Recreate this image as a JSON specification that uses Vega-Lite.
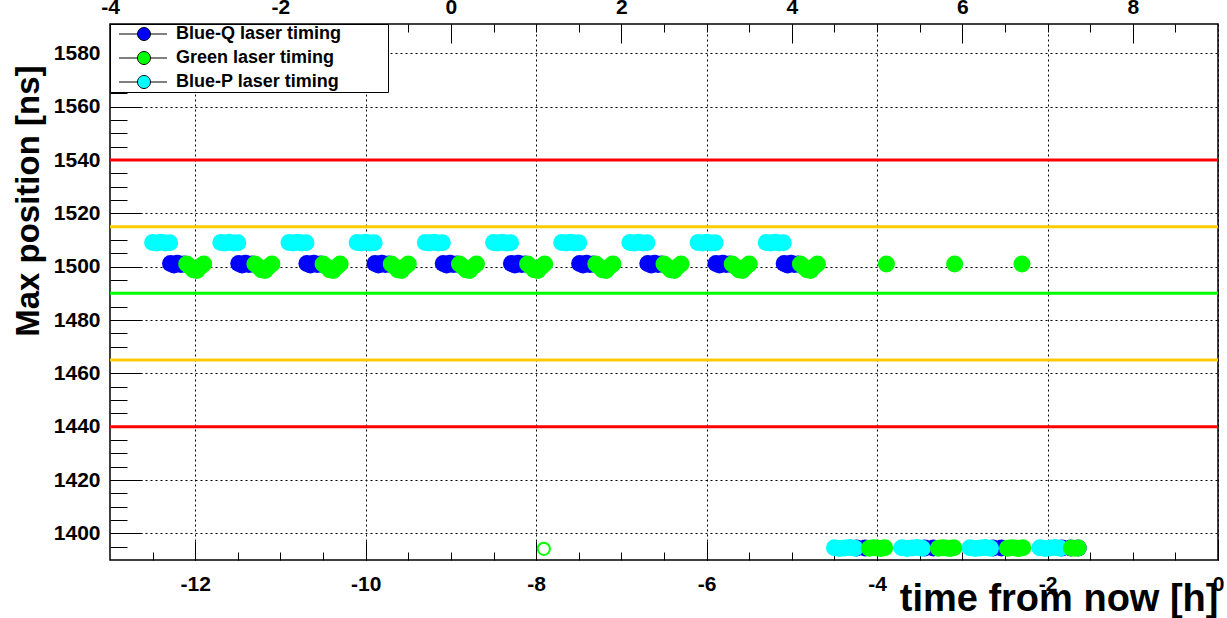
{
 "$schema": "https://vega.github.io/schema/vega-lite/v6.json",
 "width": 1108, "height": 536,
 "autosize": {"type": "none"},
 "padding": {"left": 110, "top": 24, "right": 9, "bottom": 58},
 "background": "white",
 "config": {
   "view": {"stroke": "black", "strokeWidth": 1.5},
   "font": "Liberation Sans",
   "axis": {"labelFont": "Liberation Sans", "labelFontWeight": "bold", "labelFontSize": 21, "labelColor": "black", "tickColor": "black", "tickWidth": 1, "domain": false, "labelFlush": false, "labelOverlap": false, "titleColor": "black", "titleFont": "Liberation Sans", "titleFontWeight": "bold", "gridColor": "black", "gridDash": [2, 3], "gridOpacity": 1, "gridWidth": 1}
 },
 "datasets": {
  "lines": [{"v": 1540, "c": "#ff0000"}, {"v": 1515, "c": "#ffcc00"}, {"v": 1490, "c": "#00ff00"}, {"v": 1465, "c": "#ffcc00"}, {"v": 1440, "c": "#ff0000"}],
  "ring": [{"t": -7.91, "v": 1394.2}],
  "pts": [
   {"s":"Blue-Q laser timing","t":-12.29,"v":1501.2},{"s":"Blue-Q laser timing","t":-12.25,"v":1500.6},{"s":"Blue-Q laser timing","t":-12.21,"v":1501.3},{"s":"Blue-Q laser timing","t":-12.17,"v":1500.8},{"s":"Blue-Q laser timing","t":-12.13,"v":1501.0},
   {"s":"Blue-Q laser timing","t":-11.49,"v":1501.2},{"s":"Blue-Q laser timing","t":-11.45,"v":1500.6},{"s":"Blue-Q laser timing","t":-11.41,"v":1501.3},{"s":"Blue-Q laser timing","t":-11.37,"v":1500.8},{"s":"Blue-Q laser timing","t":-11.33,"v":1501.0},
   {"s":"Blue-Q laser timing","t":-10.69,"v":1501.2},{"s":"Blue-Q laser timing","t":-10.65,"v":1500.6},{"s":"Blue-Q laser timing","t":-10.61,"v":1501.3},{"s":"Blue-Q laser timing","t":-10.57,"v":1500.8},{"s":"Blue-Q laser timing","t":-10.53,"v":1501.0},
   {"s":"Blue-Q laser timing","t":-9.89,"v":1501.2},{"s":"Blue-Q laser timing","t":-9.85,"v":1500.6},{"s":"Blue-Q laser timing","t":-9.81,"v":1501.3},{"s":"Blue-Q laser timing","t":-9.77,"v":1500.8},{"s":"Blue-Q laser timing","t":-9.73,"v":1501.0},
   {"s":"Blue-Q laser timing","t":-9.09,"v":1501.2},{"s":"Blue-Q laser timing","t":-9.05,"v":1500.6},{"s":"Blue-Q laser timing","t":-9.01,"v":1501.3},{"s":"Blue-Q laser timing","t":-8.97,"v":1500.8},{"s":"Blue-Q laser timing","t":-8.93,"v":1501.0},
   {"s":"Blue-Q laser timing","t":-8.29,"v":1501.2},{"s":"Blue-Q laser timing","t":-8.25,"v":1500.6},{"s":"Blue-Q laser timing","t":-8.21,"v":1501.3},{"s":"Blue-Q laser timing","t":-8.17,"v":1500.8},{"s":"Blue-Q laser timing","t":-8.13,"v":1501.0},
   {"s":"Blue-Q laser timing","t":-7.49,"v":1501.2},{"s":"Blue-Q laser timing","t":-7.45,"v":1500.6},{"s":"Blue-Q laser timing","t":-7.41,"v":1501.3},{"s":"Blue-Q laser timing","t":-7.37,"v":1500.8},{"s":"Blue-Q laser timing","t":-7.33,"v":1501.0},
   {"s":"Blue-Q laser timing","t":-6.69,"v":1501.2},{"s":"Blue-Q laser timing","t":-6.65,"v":1500.6},{"s":"Blue-Q laser timing","t":-6.61,"v":1501.3},{"s":"Blue-Q laser timing","t":-6.57,"v":1500.8},{"s":"Blue-Q laser timing","t":-6.53,"v":1501.0},
   {"s":"Blue-Q laser timing","t":-5.89,"v":1501.2},{"s":"Blue-Q laser timing","t":-5.85,"v":1500.6},{"s":"Blue-Q laser timing","t":-5.81,"v":1501.3},{"s":"Blue-Q laser timing","t":-5.77,"v":1500.8},{"s":"Blue-Q laser timing","t":-5.73,"v":1501.0},
   {"s":"Blue-Q laser timing","t":-5.09,"v":1501.2},{"s":"Blue-Q laser timing","t":-5.05,"v":1500.6},{"s":"Blue-Q laser timing","t":-5.01,"v":1501.3},{"s":"Blue-Q laser timing","t":-4.97,"v":1500.8},{"s":"Blue-Q laser timing","t":-4.93,"v":1501.0},
   {"s":"Blue-Q laser timing","t":-4.24,"v":1394.5},{"s":"Blue-Q laser timing","t":-4.14,"v":1394.5},{"s":"Blue-Q laser timing","t":-3.44,"v":1394.5},{"s":"Blue-Q laser timing","t":-3.34,"v":1394.5},{"s":"Blue-Q laser timing","t":-2.64,"v":1394.5},{"s":"Blue-Q laser timing","t":-2.54,"v":1394.5},{"s":"Blue-Q laser timing","t":-1.83,"v":1394.5},{"s":"Blue-Q laser timing","t":-1.73,"v":1394.5},{"s":"Blue-Q laser timing","t":-1.64,"v":1394.5},
   {"s":"Blue-P laser timing","t":-12.5,"v":1509.1},{"s":"Blue-P laser timing","t":-12.45,"v":1508.9},{"s":"Blue-P laser timing","t":-12.4,"v":1509.2},{"s":"Blue-P laser timing","t":-12.35,"v":1508.9},{"s":"Blue-P laser timing","t":-12.3,"v":1509.0},
   {"s":"Blue-P laser timing","t":-11.7,"v":1509.1},{"s":"Blue-P laser timing","t":-11.65,"v":1508.9},{"s":"Blue-P laser timing","t":-11.6,"v":1509.2},{"s":"Blue-P laser timing","t":-11.55,"v":1508.9},{"s":"Blue-P laser timing","t":-11.5,"v":1509.0},
   {"s":"Blue-P laser timing","t":-10.9,"v":1509.1},{"s":"Blue-P laser timing","t":-10.85,"v":1508.9},{"s":"Blue-P laser timing","t":-10.8,"v":1509.2},{"s":"Blue-P laser timing","t":-10.75,"v":1508.9},{"s":"Blue-P laser timing","t":-10.7,"v":1509.0},
   {"s":"Blue-P laser timing","t":-10.1,"v":1509.1},{"s":"Blue-P laser timing","t":-10.05,"v":1508.9},{"s":"Blue-P laser timing","t":-10.0,"v":1509.2},{"s":"Blue-P laser timing","t":-9.95,"v":1508.9},{"s":"Blue-P laser timing","t":-9.9,"v":1509.0},
   {"s":"Blue-P laser timing","t":-9.3,"v":1509.1},{"s":"Blue-P laser timing","t":-9.25,"v":1508.9},{"s":"Blue-P laser timing","t":-9.2,"v":1509.2},{"s":"Blue-P laser timing","t":-9.15,"v":1508.9},{"s":"Blue-P laser timing","t":-9.1,"v":1509.0},
   {"s":"Blue-P laser timing","t":-8.5,"v":1509.1},{"s":"Blue-P laser timing","t":-8.45,"v":1508.9},{"s":"Blue-P laser timing","t":-8.4,"v":1509.2},{"s":"Blue-P laser timing","t":-8.35,"v":1508.9},{"s":"Blue-P laser timing","t":-8.3,"v":1509.0},
   {"s":"Blue-P laser timing","t":-7.7,"v":1509.1},{"s":"Blue-P laser timing","t":-7.65,"v":1508.9},{"s":"Blue-P laser timing","t":-7.6,"v":1509.2},{"s":"Blue-P laser timing","t":-7.55,"v":1508.9},{"s":"Blue-P laser timing","t":-7.5,"v":1509.0},
   {"s":"Blue-P laser timing","t":-6.9,"v":1509.1},{"s":"Blue-P laser timing","t":-6.85,"v":1508.9},{"s":"Blue-P laser timing","t":-6.8,"v":1509.2},{"s":"Blue-P laser timing","t":-6.75,"v":1508.9},{"s":"Blue-P laser timing","t":-6.7,"v":1509.0},
   {"s":"Blue-P laser timing","t":-6.1,"v":1509.1},{"s":"Blue-P laser timing","t":-6.05,"v":1508.9},{"s":"Blue-P laser timing","t":-6.0,"v":1509.2},{"s":"Blue-P laser timing","t":-5.95,"v":1508.9},{"s":"Blue-P laser timing","t":-5.9,"v":1509.0},
   {"s":"Blue-P laser timing","t":-5.3,"v":1509.1},{"s":"Blue-P laser timing","t":-5.25,"v":1508.9},{"s":"Blue-P laser timing","t":-5.2,"v":1509.2},{"s":"Blue-P laser timing","t":-5.15,"v":1508.9},{"s":"Blue-P laser timing","t":-5.1,"v":1509.0},
   {"s":"Blue-P laser timing","t":-4.5,"v":1394.6},{"s":"Blue-P laser timing","t":-4.44,"v":1394.3},{"s":"Blue-P laser timing","t":-4.38,"v":1394.5},{"s":"Blue-P laser timing","t":-4.32,"v":1394.7},{"s":"Blue-P laser timing","t":-4.26,"v":1394.4},
   {"s":"Blue-P laser timing","t":-3.71,"v":1394.6},{"s":"Blue-P laser timing","t":-3.65,"v":1394.3},{"s":"Blue-P laser timing","t":-3.59,"v":1394.5},{"s":"Blue-P laser timing","t":-3.53,"v":1394.7},{"s":"Blue-P laser timing","t":-3.47,"v":1394.4},
   {"s":"Blue-P laser timing","t":-2.91,"v":1394.6},{"s":"Blue-P laser timing","t":-2.85,"v":1394.3},{"s":"Blue-P laser timing","t":-2.79,"v":1394.5},{"s":"Blue-P laser timing","t":-2.73,"v":1394.7},{"s":"Blue-P laser timing","t":-2.67,"v":1394.4},
   {"s":"Blue-P laser timing","t":-2.09,"v":1394.6},{"s":"Blue-P laser timing","t":-2.03,"v":1394.3},{"s":"Blue-P laser timing","t":-1.97,"v":1394.5},{"s":"Blue-P laser timing","t":-1.91,"v":1394.7},{"s":"Blue-P laser timing","t":-1.85,"v":1394.4},
   {"s":"Green laser timing","t":-12.1,"v":1501.0},{"s":"Green laser timing","t":-12.06,"v":1500.0},{"s":"Green laser timing","t":-12.02,"v":1498.8},{"s":"Green laser timing","t":-11.98,"v":1498.6},{"s":"Green laser timing","t":-11.94,"v":1500.0},{"s":"Green laser timing","t":-11.9,"v":1501.0},
   {"s":"Green laser timing","t":-11.3,"v":1501.0},{"s":"Green laser timing","t":-11.26,"v":1500.0},{"s":"Green laser timing","t":-11.22,"v":1498.8},{"s":"Green laser timing","t":-11.18,"v":1498.6},{"s":"Green laser timing","t":-11.14,"v":1500.0},{"s":"Green laser timing","t":-11.1,"v":1501.0},
   {"s":"Green laser timing","t":-10.5,"v":1501.0},{"s":"Green laser timing","t":-10.46,"v":1500.0},{"s":"Green laser timing","t":-10.42,"v":1498.8},{"s":"Green laser timing","t":-10.38,"v":1498.6},{"s":"Green laser timing","t":-10.34,"v":1500.0},{"s":"Green laser timing","t":-10.3,"v":1501.0},
   {"s":"Green laser timing","t":-9.7,"v":1501.0},{"s":"Green laser timing","t":-9.66,"v":1500.0},{"s":"Green laser timing","t":-9.62,"v":1498.8},{"s":"Green laser timing","t":-9.58,"v":1498.6},{"s":"Green laser timing","t":-9.54,"v":1500.0},{"s":"Green laser timing","t":-9.5,"v":1501.0},
   {"s":"Green laser timing","t":-8.9,"v":1501.0},{"s":"Green laser timing","t":-8.86,"v":1500.0},{"s":"Green laser timing","t":-8.82,"v":1498.8},{"s":"Green laser timing","t":-8.78,"v":1498.6},{"s":"Green laser timing","t":-8.74,"v":1500.0},{"s":"Green laser timing","t":-8.7,"v":1501.0},
   {"s":"Green laser timing","t":-8.1,"v":1501.0},{"s":"Green laser timing","t":-8.06,"v":1500.0},{"s":"Green laser timing","t":-8.02,"v":1498.8},{"s":"Green laser timing","t":-7.98,"v":1498.6},{"s":"Green laser timing","t":-7.94,"v":1500.0},{"s":"Green laser timing","t":-7.9,"v":1501.0},
   {"s":"Green laser timing","t":-7.3,"v":1501.0},{"s":"Green laser timing","t":-7.26,"v":1500.0},{"s":"Green laser timing","t":-7.22,"v":1498.8},{"s":"Green laser timing","t":-7.18,"v":1498.6},{"s":"Green laser timing","t":-7.14,"v":1500.0},{"s":"Green laser timing","t":-7.1,"v":1501.0},
   {"s":"Green laser timing","t":-6.5,"v":1501.0},{"s":"Green laser timing","t":-6.46,"v":1500.0},{"s":"Green laser timing","t":-6.42,"v":1498.8},{"s":"Green laser timing","t":-6.38,"v":1498.6},{"s":"Green laser timing","t":-6.34,"v":1500.0},{"s":"Green laser timing","t":-6.3,"v":1501.0},
   {"s":"Green laser timing","t":-5.7,"v":1501.0},{"s":"Green laser timing","t":-5.66,"v":1500.0},{"s":"Green laser timing","t":-5.62,"v":1498.8},{"s":"Green laser timing","t":-5.58,"v":1498.6},{"s":"Green laser timing","t":-5.54,"v":1500.0},{"s":"Green laser timing","t":-5.5,"v":1501.0},
   {"s":"Green laser timing","t":-4.9,"v":1501.0},{"s":"Green laser timing","t":-4.86,"v":1500.0},{"s":"Green laser timing","t":-4.82,"v":1498.8},{"s":"Green laser timing","t":-4.78,"v":1498.6},{"s":"Green laser timing","t":-4.74,"v":1500.0},{"s":"Green laser timing","t":-4.7,"v":1501.0},
   {"s":"Green laser timing","t":-3.89,"v":1501.0},{"s":"Green laser timing","t":-3.09,"v":1501.0},{"s":"Green laser timing","t":-2.3,"v":1501.0},
   {"s":"Green laser timing","t":-4.09,"v":1394.4},{"s":"Green laser timing","t":-4.045,"v":1394.6},{"s":"Green laser timing","t":-4.0,"v":1394.5},{"s":"Green laser timing","t":-3.955,"v":1394.3},{"s":"Green laser timing","t":-3.91,"v":1394.6},
   {"s":"Green laser timing","t":-3.28,"v":1394.4},{"s":"Green laser timing","t":-3.235,"v":1394.6},{"s":"Green laser timing","t":-3.19,"v":1394.5},{"s":"Green laser timing","t":-3.145,"v":1394.3},{"s":"Green laser timing","t":-3.1,"v":1394.6},
   {"s":"Green laser timing","t":-2.47,"v":1394.4},{"s":"Green laser timing","t":-2.425,"v":1394.6},{"s":"Green laser timing","t":-2.38,"v":1394.5},{"s":"Green laser timing","t":-2.335,"v":1394.3},{"s":"Green laser timing","t":-2.29,"v":1394.6},
   {"s":"Green laser timing","t":-1.72,"v":1394.5},{"s":"Green laser timing","t":-1.68,"v":1394.4},{"s":"Green laser timing","t":-1.64,"v":1394.5}
  ]
 },
 "layer": [
  {
   "data": {"name": "pts"},
   "mark": {"type": "point", "opacity": 0},
   "encoding": {
    "x": {"field": "t", "type": "quantitative", "scale": {"domain": [-13, 0], "nice": false, "zero": false},
     "axis": {"orient": "bottom", "values": [-12, -10, -8, -6, -4, -2, 0], "tickSize": -19, "labelPadding": 32.5, "grid": true,
      "labelExpr": "datum.value < 0 ? '-' + format(-datum.value, 'd') : format(datum.value, 'd')",
      "title": "time from now [h]", "titleFontSize": 38, "titleX": 1108, "titleY": 50, "titleAlign": "right", "titleBaseline": "alphabetic"}},
    "y": {"field": "v", "type": "quantitative", "scale": {"domain": [1390, 1591], "nice": false, "zero": false},
     "axis": {"orient": "left", "values": [1400, 1420, 1440, 1460, 1480, 1500, 1520, 1540, 1560, 1580], "tickSize": -32, "labelPadding": 42, "grid": true, "format": "d",
      "title": "Max position [ns]", "titleFontSize": 33, "titleAngle": -90, "titleX": -72, "titleY": 41, "titleAlign": "right", "titleBaseline": "alphabetic"}}
   }
  },
  {
   "data": {"name": "lines"},
   "mark": {"type": "rule", "strokeWidth": 3},
   "encoding": {
    "y": {"field": "v", "type": "quantitative", "scale": {"domain": [1390, 1591], "nice": false, "zero": false}, "axis": null},
    "color": {"field": "c", "type": "nominal", "scale": null}
   }
  },
  {
   "data": {"name": "pts"},
   "mark": {"type": "point", "filled": true, "size": 289, "opacity": 1, "strokeWidth": 0},
   "encoding": {
    "x": {"field": "t", "type": "quantitative", "scale": {"domain": [-13, 0], "nice": false, "zero": false},
     "axis": {"orient": "bottom", "values": [-12.5, -12, -11.5, -11, -10.5, -10, -9.5, -9, -8.5, -8, -7.5, -7, -6.5, -6, -5.5, -5, -4.5, -4, -3.5, -3, -2.5, -2, -1.5, -1, -0.5], "tickSize": -8, "labels": false, "grid": false, "title": null}},
    "y": {"field": "v", "type": "quantitative", "scale": {"domain": [1390, 1591], "nice": false, "zero": false},
     "axis": {"orient": "left", "values": [1395, 1400, 1405, 1410, 1415, 1420, 1425, 1430, 1435, 1440, 1445, 1450, 1455, 1460, 1465, 1470, 1475, 1480, 1485, 1490, 1495, 1500, 1505, 1510, 1515, 1520, 1525, 1530, 1535, 1540, 1545, 1550, 1555, 1560, 1565, 1570, 1575, 1580, 1585, 1590], "tickSize": -17, "labels": false, "grid": false, "title": null}},
    "color": {"field": "s", "type": "nominal",
     "scale": {"domain": ["Blue-Q laser timing", "Green laser timing", "Blue-P laser timing"], "range": ["#0000ff", "#00ff00", "#00ffff"]},
     "legend": {"orient": "none", "legendX": 0, "legendY": 0, "direction": "vertical", "title": null,
      "fillColor": "white", "strokeColor": "black", "padding": 1,
      "symbolType": "M-0.15,0H2.69M4.69,0H7.23M4.69,0A1,1,0,1,1,2.69,0A1,1,0,1,1,4.69,0Z",
      "symbolSize": 169, "symbolStrokeColor": "black", "symbolStrokeWidth": 1, "symbolOpacity": 1,
      "labelFont": "Liberation Sans", "labelFontSize": 18, "labelFontWeight": "bold", "labelColor": "black", "labelLimit": 500,
      "labelOffset": 47, "rowPadding": 6,
      "labelExpr": "datum.label + '\u00a0\u00a0\u00a0\u00a0\u00a0\u00a0\u00a0\u00a0\u00a0\u200b'"}}
   }
  },
  {
   "data": {"name": "ring"},
   "mark": {"type": "point", "filled": false, "size": 150, "strokeWidth": 2, "color": "#00ff00", "opacity": 1},
   "encoding": {
    "x": {"field": "t", "type": "quantitative", "scale": {"domain": [-13, 0], "nice": false, "zero": false}, "axis": null},
    "y": {"field": "v", "type": "quantitative", "scale": {"domain": [1390, 1591], "nice": false, "zero": false}, "axis": null}
   }
  },
  {
   "data": {"name": "pts"},
   "mark": {"type": "point", "opacity": 0},
   "encoding": {
    "x": {"field": "t", "type": "quantitative", "scale": {"domain": [-13, 0], "nice": false, "zero": false},
     "axis": {"orient": "top", "values": [-13, -11, -9, -7, -5, -3, -1], "tickSize": -19, "labelPadding": 26, "grid": false, "title": null,
      "labelExpr": "(datum.value + 9) < 0 ? '-' + format(-(datum.value + 9), 'd') : format(datum.value + 9, 'd')"}}
   }
  },
  {
   "data": {"name": "pts"},
   "mark": {"type": "point", "opacity": 0},
   "encoding": {
    "x": {"field": "t", "type": "quantitative", "scale": {"domain": [-13, 0], "nice": false, "zero": false},
     "axis": {"orient": "top", "values": [-12.5, -12, -11.5, -11, -10.5, -10, -9.5, -9, -8.5, -8, -7.5, -7, -6.5, -6, -5.5, -5, -4.5, -4, -3.5, -3, -2.5, -2, -1.5, -1, -0.5], "tickSize": -8, "labels": false, "grid": false, "title": null}}
   }
  }
 ],
 "resolve": {"axis": {"x": "independent", "y": "independent"}}
}
